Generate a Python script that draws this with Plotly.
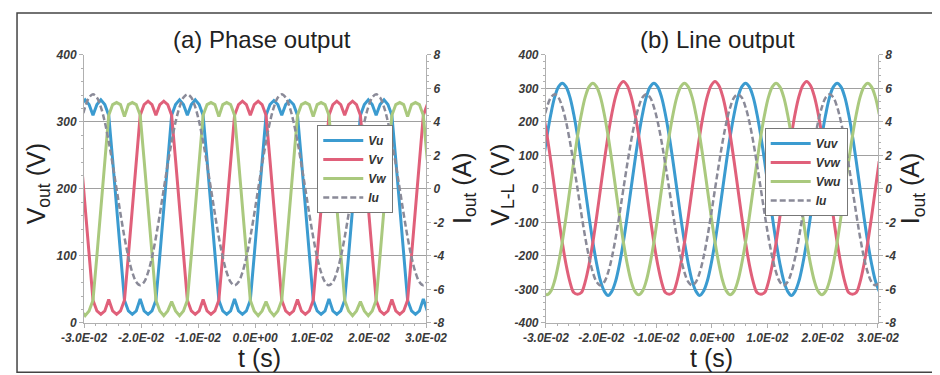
import plotly.graph_objects as go

# ---------------- data ----------------
t = [-0.0305, -0.02981, -0.02912, -0.02843, -0.02774, -0.02705, -0.02636, -0.02567,
     -0.02498, -0.02429, -0.0236, -0.02291, -0.02222, -0.02153, -0.02084, -0.02015,
     -0.01946, -0.01877, -0.01808, -0.01739, -0.0167, -0.01601, -0.01532, -0.01463,
     -0.01394, -0.01325, -0.01256, -0.01187, -0.01118, -0.01049, -0.0098, -0.00911,
     -0.00842, -0.00773, -0.00704, -0.00635, -0.00566, -0.00497, -0.00428, -0.00359,
     -0.0029, -0.00221, -0.00152, -0.00083, -0.00014, 0.00055, 0.00124, 0.00193,
     0.00262, 0.00331, 0.004, 0.00469, 0.00538, 0.00607, 0.00676, 0.00745,
     0.00814, 0.00883, 0.00952, 0.01021, 0.0109, 0.01159, 0.01228, 0.01297,
     0.01366, 0.01435, 0.01504, 0.01573, 0.01642, 0.01711, 0.0178, 0.01849,
     0.01918, 0.01987, 0.02056, 0.02125, 0.02194, 0.02263, 0.02332, 0.02401,
     0.0247, 0.02539, 0.02608, 0.02677, 0.02746, 0.02815, 0.02884, 0.02953, 0.03022]

# (a) phase voltages [V]
vu = [326, 333, 326, 310, 326, 333, 326, 310, 243, 172, 101, 34, 18, 13, 18, 36, 18, 13, 18, 34, 101, 172, 243, 310,
      326, 333, 326, 310, 326, 333, 326, 310, 243, 172, 101, 34, 18, 13, 18, 36, 18, 13, 18, 34, 101, 172, 243, 310,
      326, 332, 326, 310, 326, 332, 326, 310, 243, 172, 101, 34, 18, 13, 18, 36, 18, 13, 18, 34, 101, 172, 243, 310,
      326, 333, 326, 310, 326, 333, 326, 310, 243, 172, 101, 34, 18, 13, 18, 36, 18]
vv = [243, 172, 101, 34, 18, 13, 18, 35, 18, 13, 18, 34, 101, 172, 243, 310, 326, 331, 326, 310, 326, 331, 326, 310,
      243, 172, 101, 34, 18, 13, 18, 35, 18, 13, 18, 34, 101, 172, 243, 310, 326, 331, 326, 310, 326, 331, 326, 310,
      243, 172, 101, 34, 18, 13, 18, 35, 18, 13, 18, 34, 101, 172, 243, 310, 326, 331, 326, 310, 326, 331, 326, 310,
      243, 172, 101, 34, 18, 13, 18, 35, 18, 13, 18, 34, 101, 172, 243, 310, 326]
vw = [18, 11, 18, 34, 101, 172, 243, 310, 326, 329, 326, 308, 326, 329, 326, 310, 243, 172, 101, 34, 18, 11, 18, 32,
      18, 11, 18, 34, 101, 172, 243, 310, 326, 329, 326, 308, 326, 329, 326, 310, 243, 172, 101, 34, 18, 11, 18, 32,
      18, 11, 18, 34, 101, 172, 243, 310, 326, 329, 326, 308, 326, 329, 326, 310, 243, 172, 101, 34, 18, 11, 18, 32,
      18, 11, 18, 34, 101, 172, 243, 310, 326, 329, 326, 308, 326, 329, 326, 310, 243]

# output current [A]
iu = [4.0, 4.89, 5.46, 5.65, 5.46, 4.89, 4.0, 2.83, 1.46, 0, -1.49, -2.88, -4.07, -4.98, -5.55, -5.75, -5.55, -4.98, -4.07, -2.88, -1.49, 0, 1.46, 2.83,
      4.0, 4.89, 5.46, 5.65, 5.46, 4.89, 4.0, 2.83, 1.46, 0, -1.49, -2.88, -4.07, -4.98, -5.55, -5.75, -5.55, -4.98, -4.07, -2.88, -1.49, 0, 1.46, 2.83,
      4.0, 4.89, 5.46, 5.65, 5.46, 4.89, 4.0, 2.83, 1.46, 0, -1.49, -2.88, -4.07, -4.98, -5.55, -5.75, -5.55, -4.98, -4.07, -2.88, -1.49, 0, 1.46, 2.83,
      4.0, 4.89, 5.46, 5.65, 5.46, 4.89, 4.0, 2.83, 1.46, 0, -1.49, -2.88, -4.07, -4.98, -5.55, -5.75, -5.55]

# (b) line voltages [V]
vuv = [82, 158, 223, 274, 305, 316, 305, 274, 223, 158, 82, 0, -82, -158, -223, -274, -305, -318, -305, -274, -223, -158, -82, 0,
       82, 158, 223, 274, 305, 316, 305, 274, 223, 158, 82, 0, -82, -158, -223, -274, -305, -318, -305, -274, -223, -158, -82, 0,
       82, 158, 223, 274, 305, 316, 305, 274, 223, 158, 82, 0, -82, -158, -223, -274, -305, -318, -305, -274, -223, -158, -82, 0,
       82, 158, 223, 274, 305, 316, 305, 274, 223, 158, 82, 0, -82, -158, -223, -274, -305]
vvw = [226, 160, 83, 0, -83, -160, -226, -277, -309, -314, -309, -277, -226, -160, -83, 0, 83, 160, 226, 277, 309, 321, 309, 277,
       226, 160, 83, 0, -83, -160, -226, -277, -309, -314, -309, -277, -226, -160, -83, 0, 83, 160, 226, 277, 309, 321, 309, 277,
       226, 160, 83, 0, -83, -160, -226, -277, -309, -314, -309, -277, -226, -160, -83, 0, 83, 160, 226, 277, 309, 321, 309, 277,
       226, 160, 83, 0, -83, -160, -226, -277, -309, -314, -309, -277, -226, -160, -83, 0, 83]
vwu = [-305, -316, -305, -274, -223, -158, -82, 0, 82, 158, 223, 274, 305, 316, 305, 274, 223, 158, 82, 0, -82, -158, -223, -274,
       -305, -316, -305, -274, -223, -158, -82, 0, 82, 158, 223, 274, 305, 316, 305, 274, 223, 158, 82, 0, -82, -158, -223, -274,
       -305, -316, -305, -274, -223, -158, -82, 0, 82, 158, 223, 274, 305, 316, 305, 274, 223, 158, 82, 0, -82, -158, -223, -274,
       -305, -316, -305, -274, -223, -158, -82, 0, 82, 158, 223, 274, 305, 316, 305, 274, 223]

x_tickvals = [-0.03, -0.02, -0.01, 0.0, 0.01, 0.02, 0.03]
x_ticktext = ["-3.0E-02", "-2.0E-02", "-1.0E-02", "0.0E+00", "1.0E-02", "2.0E-02", "3.0E-02"]
ya_tickvals = [0, 100, 200, 300, 400]
yb_tickvals = [-400, -300, -200, -100, 0, 100, 200, 300, 400]
yi_tickvals = [-8, -6, -4, -2, 0, 2, 4, 6, 8]

# ---------------- style ----------------
BLUE = "#3b9bd0"
RED = "#e0607a"
GREEN = "#aac97e"
GRAY = "#8a8a98"
FONT = "Liberation Sans"
tickfont = dict(family=FONT, size=12, color="#3a3a3a", style="italic", weight="bold")

fig = go.Figure()

def add(x, y, name, color, xa, ya, leg, dash=None, shape="linear", width=3):
    fig.add_trace(go.Scatter(
        x=x, y=y, name=name, mode="lines", xaxis=xa, yaxis=ya, legend=leg,
        line=dict(color=color, width=width, dash=dash, shape=shape)))

add(t, vu, "Vu", BLUE, "x", "y", "legend")
add(t, vv, "Vv", RED, "x", "y", "legend")
add(t, vw, "Vw", GREEN, "x", "y", "legend")
add(t, iu, "Iu", GRAY, "x", "y2", "legend", dash="6px,3px", shape="spline", width=2.5)

add(t, vuv, "Vuv", BLUE, "x2", "y3", "legend2", shape="spline")
add(t, vvw, "Vvw", RED, "x2", "y3", "legend2", shape="spline")
add(t, vwu, "Vwu", GREEN, "x2", "y3", "legend2", shape="spline")
add(t, iu, "Iu", GRAY, "x2", "y4", "legend2", dash="6px,3px", shape="spline", width=2.5)

ydom = [0.16, 0.8747]
AXLINE = "#b0b0b0"

def xaxis(domain, anchor):
    return dict(domain=domain, anchor=anchor, range=[-0.03, 0.03], automargin=False,
                tickvals=x_tickvals, ticktext=x_ticktext, tickfont=tickfont,
                showline=True, linecolor=AXLINE, linewidth=1,
                ticks="outside", ticklen=4, tickcolor=AXLINE,
                minor=dict(dtick=0.002, ticks="outside", ticklen=2, tickcolor=AXLINE),
                showgrid=False, zeroline=False)

def yleft(rng, vals, anchor):
    return dict(domain=ydom, anchor=anchor, range=rng, tickvals=vals, automargin=False,
                ticktext=[str(v) for v in vals], tickfont=tickfont,
                showline=True, linecolor=AXLINE, linewidth=1,
                ticks="outside", ticklen=4, tickcolor=AXLINE,
                minor=dict(dtick=20, ticks="outside", ticklen=2, tickcolor=AXLINE),
                showgrid=True, gridcolor="#a0a0a0", gridwidth=1, zeroline=False)

def yright(over, anchor):
    return dict(overlaying=over, anchor=anchor, side="right", range=[-8, 8], automargin=False,
                tickvals=yi_tickvals, ticktext=[str(v) for v in yi_tickvals],
                tickfont=tickfont, showline=True, linecolor=AXLINE, linewidth=1,
                ticks="outside", ticklen=4, tickcolor=AXLINE,
                minor=dict(dtick=0.4, ticks="outside", ticklen=2, tickcolor=AXLINE),
                showgrid=False, zeroline=False)

legstyle = dict(font=dict(family=FONT, size=12, color="#333", style="italic", weight="bold"),
                bgcolor="white", bordercolor="#777", borderwidth=1,
                xanchor="left", yanchor="top", itemwidth=40, tracegroupgap=0)

fig.update_layout(
    width=940, height=375, margin=dict(l=0, r=0, t=0, b=0, autoexpand=False),
    paper_bgcolor="white", plot_bgcolor="white",
    xaxis=xaxis([0.0809, 0.4447], "y"),
    yaxis=yleft([0, 400], ya_tickvals, "x"),
    yaxis2=yright("y", "x"),
    xaxis2=xaxis([0.5723, 0.9255], "y3"),
    yaxis3=yleft([-400, 400], yb_tickvals, "x2"),
    yaxis4=yright("y3", "x2"),
    legend=dict(x=0.329, y=0.688, **legstyle),
    legend2=dict(x=0.805, y=0.680, **legstyle),
    showlegend=True,
)

def ann(text, x, y, size, angle=0):
    fig.add_annotation(text=text, x=x, y=y, xref="paper", yref="paper",
                       showarrow=False, textangle=angle,
                       font=dict(family=FONT, size=size, color="#222"),
                       xanchor="center", yanchor="middle")

ann("(a) Phase output", 0.270, 0.915, 24)
ann("(b) Line output", 0.755, 0.915, 24)
ann("V<sub>out</sub> (V)", 0.032, 0.53, 25, -90)
ann("I<sub>out</sub> (A)", 0.485, 0.52, 25, -90)
ann("V<sub>L-L</sub> (V)", 0.526, 0.53, 25, -90)
ann("I<sub>out</sub> (A)", 0.962, 0.52, 25, -90)
ann("t (s)", 0.268, 0.068, 25)
ann("t (s)", 0.748, 0.068, 25)

fig.add_shape(type="rect", xref="paper", yref="paper",
              x0=0.0096, x1=0.9926, y0=0.029, y1=0.987,
              line=dict(color="#444", width=1.5), fillcolor="rgba(0,0,0,0)", layer="above")

fig.write_html("out.html")
